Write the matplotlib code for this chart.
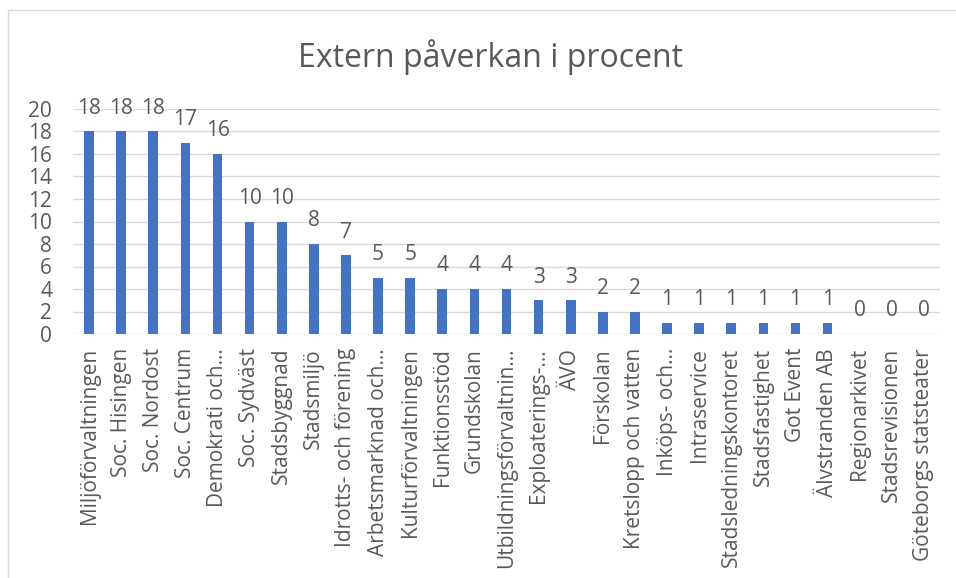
import numpy as np
import matplotlib.pyplot as plt
from matplotlib.patches import Rectangle

# Data
categories = ['Miljöförvaltningen', 'Soc. Hisingen', 'Soc. Nordost', 'Soc. Centrum',
              'Demokrati och…', 'Soc. Sydväst', 'Stadsbyggnad', 'Stadsmiljö',
              'Idrotts- och förening', 'Arbetsmarknad och…', 'Kulturförvaltningen',
              'Funktionsstöd', 'Grundskolan', 'Utbildningsförvaltnin…', 'Exploaterings-…',
              'ÄVO', 'Förskolan', 'Kretslopp och vatten', 'Inköps- och…', 'Intraservice',
              'Stadsledningskontoret', 'Stadsfastighet', 'Got Event', 'Älvstranden AB',
              'Regionarkivet', 'Stadsrevisionen', 'Göteborgs statsteater']
values = [18, 18, 18, 17, 16, 10, 10, 8, 7, 5, 5, 4, 4, 4, 3, 3, 2, 2, 1, 1, 1, 1, 1, 1, 0, 0, 0]
yticks = [0, 2, 4, 6, 8, 10, 12, 14, 16, 18, 20]

plt.rcParams['font.family'] = ['Open Sans', 'DejaVu Sans']
text_color = '#595959'
W, H = 956, 578

fig = plt.figure(figsize=(W / 100, H / 100), dpi=100)
ax = fig.add_axes([73 / W, 1 - 334 / H, (940 - 73) / W, (334 - 109) / H])

# ram runt diagrammet (bara vänster och övre kant syns)
fig.patches.append(Rectangle((8 / W, -0.5), 2, 1.5 - 10 / H, transform=fig.transFigure,
                             fill=False, edgecolor='#D9D9D9', linewidth=1))

x = np.arange(len(categories))
bars = ax.bar(x, values, width=0.3, color='#4472C4', zorder=3)

for xi, v in zip(x, values):
    ax.annotate(str(v), (xi, v), xytext=(0, 9), textcoords='offset points',
                ha='center', va='bottom', fontsize=15, color=text_color)

ax.set_xlim(-0.5, len(categories) - 0.5)
ax.set_ylim(0, 20)
ax.set_yticks(yticks)
ax.set_xticks(x)
ax.set_xticklabels(categories, rotation=90, fontsize=15, color=text_color)
ax.tick_params(axis='y', length=0, pad=15, labelsize=15, labelcolor=text_color)
ax.tick_params(axis='x', length=0, pad=10)
ax.grid(axis='y', color='#D9D9D9', linewidth=1, zorder=0)
for s in ax.spines.values():
    s.set_visible(False)

fig.text(490 / W, 1 - 57 / H, 'Extern påverkan i procent', ha='center', va='center',
         fontsize=23, color=text_color)

fig.savefig('out.png', dpi=100)
